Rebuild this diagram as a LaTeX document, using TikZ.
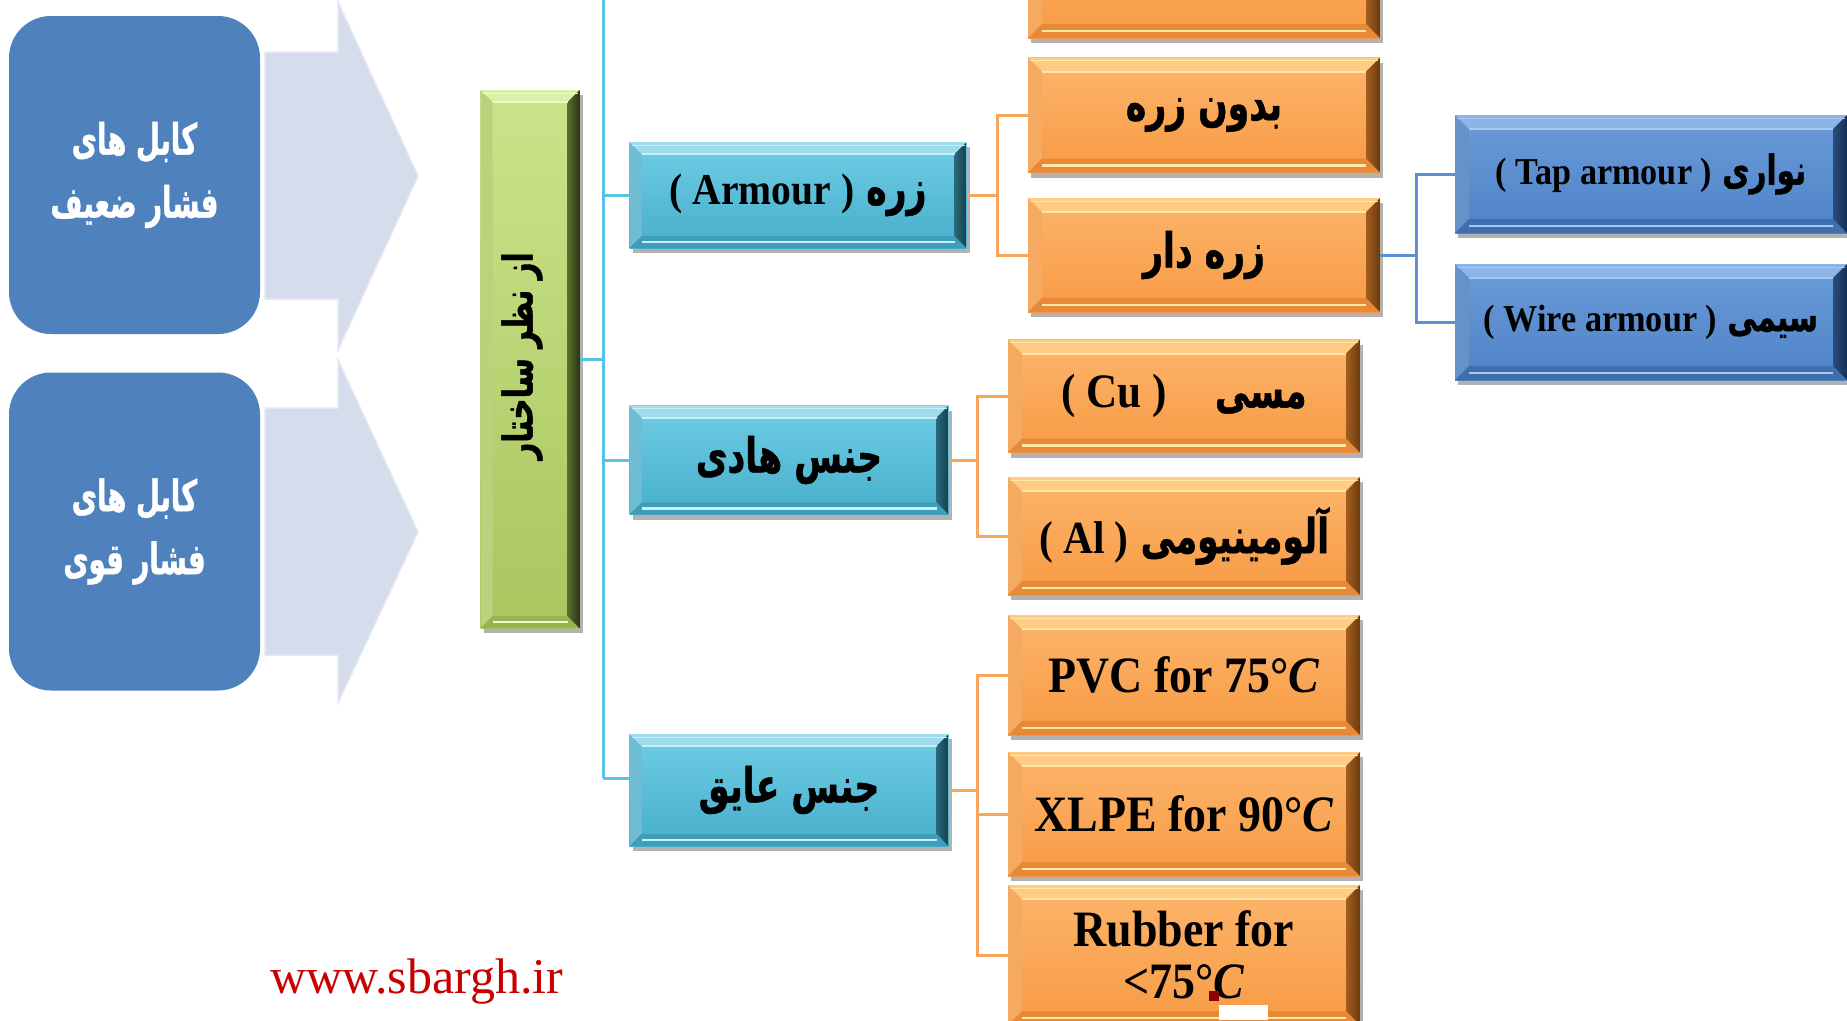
\documentclass[tikz,border=0pt]{standalone}
\usepackage{fontspec}
\setmainfont{Liberation Serif}
\newfontfamily\ar[Script=Arabic,FakeStretch=0.72,BoldFeatures={FakeBold=1}]{DejaVu Sans}
\newfontfamily\arc[Script=Arabic,FakeStretch=0.64,BoldFeatures={FakeBold=1}]{DejaVu Sans}
\newfontfamily\lat{Liberation Serif}
\newfontfamily\latc[FakeStretch=0.9]{Liberation Serif}
\TeXXeTstate=1
\usetikzlibrary{shadows}
\definecolor{rbblue}{HTML}{4F81BD}
\definecolor{chev}{HTML}{D5DCEB}
\definecolor{chevE}{HTML}{E3E8F2}
\definecolor{cyT}{HTML}{6FCDE6}\definecolor{cyB}{HTML}{47AECA}\definecolor{cyL}{HTML}{9FDDEE}
\definecolor{cyM}{HTML}{3E9DB8}\definecolor{cyD}{HTML}{173F4A}\definecolor{cyH}{HTML}{C8F0F8}
\definecolor{orT}{HTML}{FDB56B}\definecolor{orB}{HTML}{F79A44}\definecolor{orL}{HTML}{FFCB85}
\definecolor{orM}{HTML}{E8893A}\definecolor{orD}{HTML}{6B3A0C}\definecolor{orH}{HTML}{FFE7A6}
\definecolor{blT}{HTML}{6A9BDA}\definecolor{blB}{HTML}{4F83C6}\definecolor{blL}{HTML}{8DB4E6}
\definecolor{blM}{HTML}{3F6FAE}\definecolor{blD}{HTML}{162F52}\definecolor{blH}{HTML}{A9C8F0}
\definecolor{grT}{HTML}{CBE48A}\definecolor{grB}{HTML}{A9C65F}\definecolor{grL}{HTML}{DDF0A8}
\definecolor{grM}{HTML}{96B450}\definecolor{grD}{HTML}{2A3512}\definecolor{grH}{HTML}{EEF8C8}
\definecolor{cyline}{HTML}{58C4E3}
\definecolor{orline}{HTML}{F8A65C}
\definecolor{blline}{HTML}{5C8FD6}
\definecolor{webred}{HTML}{C80000}
\definecolor{darkred}{HTML}{8B0000}
\newcommand\LT[2][44]{{\latc\bfseries\fontsize{#1}{#1}\selectfont #2}}
\begin{document}
\begin{tikzpicture}[x=1pt,y=-1pt,
  bvw/.store in=\bvw, bvw=12pt,
  bvlight/.store in=\bvL, bvdark/.store in=\bvD, bvmid/.store in=\bvM, bvhi/.store in=\bvH,
  bevel/.style={rectangle, inner sep=0pt, align=center,
    drop shadow={shadow xshift=3pt,shadow yshift=-5pt,opacity=.3,fill=black},
    path picture={
      \coordinate (pnw) at (path picture bounding box.north west);
      \coordinate (pne) at (path picture bounding box.north east);
      \coordinate (psw) at (path picture bounding box.south west);
      \coordinate (pse) at (path picture bounding box.south east);
      \fill[\bvM!50!\bvL] (pnw) -- ([shift={(\bvw,-\bvw)}]pnw) -- ([shift={(\bvw,\bvw)}]psw) -- (psw) -- cycle;
      \fill[\bvM] (psw) -- ([shift={(\bvw,\bvw)}]psw) -- ([shift={(-\bvw,\bvw)}]pse) -- (pse) -- cycle;
      \fill[\bvL] (pnw) -- (pne) -- ([shift={(-\bvw,-\bvw)}]pne) -- ([shift={(\bvw,-\bvw)}]pnw) -- cycle;
      \shade[left color=\bvD!55!\bvM, right color=\bvD] (pne) -- (pse) -- ([shift={(-\bvw,\bvw)}]pse) -- ([shift={(-\bvw,-\bvw)}]pne) -- cycle;
      \draw[\bvH, line width=2pt] ([shift={(\bvw,-\bvw)}]pnw) -- ([shift={(-\bvw,-\bvw)}]pne);
      \draw[\bvH, line width=2.5pt] ([shift={(\bvw,0.5*\bvw)}]psw) -- ([shift={(-\bvw,0.5*\bvw)}]pse);
      \draw[\bvH, line width=1pt] ([shift={(2pt,-3pt)}]pnw) -- ([shift={(-2pt,-3pt)}]pne);
    }},
  cbox/.style={bevel, top color=cyT, bottom color=cyB, bvlight=cyL, bvdark=cyD, bvmid=cyM, bvhi=cyH,
    minimum width=319pt, font=\ar\bfseries\fontsize{48}{54}\selectfont},
  obox/.style={bevel, bvw=14pt, top color=orT, bottom color=orB, bvlight=orL, bvdark=orD, bvmid=orM, bvhi=orH,
    minimum width=352pt, font=\ar\bfseries\fontsize{48}{54}\selectfont},
  bbox/.style={bevel, bvw=14pt, top color=blT, bottom color=blB, bvlight=blL, bvdark=blD, bvmid=blM, bvhi=blH,
    minimum width=392pt, font=\ar\bfseries\fontsize{41}{46}\selectfont},
  gbox/.style={bevel, top color=grT, bottom color=grB, bvlight=grL, bvdark=grD, bvmid=grM, bvhi=grH},
  rbox/.style={rectangle, rounded corners=42pt, fill=rbblue, minimum width=251pt, minimum height=318pt,
    text=white, inner sep=0pt, align=center, font=\arc\bfseries\fontsize{43}{63}\selectfont},
  chevron/.style={fill=chev, draw=chevE, line width=1.5pt},
  cyl/.style={draw=cyline, line width=3pt},
  orl/.style={draw=orline, line width=3pt},
  bll/.style={draw=blline, line width=3pt}]
\useasboundingbox (0,0) rectangle (1847,1020);
\clip (0,0) rectangle (1847,1020);
\fill[white] (0,0) rectangle (1847,1020);

% chevrons
\path[chevron] (265,52) -- (338,52) -- (338,2) -- (418,176) -- (338,350) -- (338,299) -- (265,299) -- cycle;
\path[chevron] (265,408) -- (338,408) -- (338,360) -- (418,532) -- (338,703) -- (338,655) -- (265,655) -- cycle;

% left rounded boxes
\node[rbox] (low) at (134.5,175) {\beginR کابل های\endR\\\beginR فشار ضعیف\endR};
\node[rbox] (high) at (134.5,531.5) {\beginR کابل های\endR\\\beginR فشار قوی\endR};

% trunk
\coordinate (trTop) at (603,0);
\coordinate (trBot) at (603,778);

% boxes
\node[gbox, minimum width=99pt, minimum height=538pt] (gbar) at (530,359) {};
\node[rotate=90, font=\ar\bfseries\fontsize{41}{46}\selectfont] (gtxt) at (522,356) {\beginR از نظر ساختار\endR};

\node[cbox, minimum height=110pt] (ctop) at (789,-62) {};
\node[cbox, minimum width=337pt, minimum height=106pt] (armour) at (798,195) {\LT[44]{( Armour )}\ زره};
\node[cbox, minimum height=109pt] (hadi) at (789,460) {\beginR جنس هادی\endR};
\node[cbox, minimum height=112pt] (insul) at (789,790) {\beginR جنس عایق\endR};

\node[obox, minimum height=120pt] (otop) at (1204,-22) {};
\node[obox, minimum height=115pt] (nozreh) at (1204,115) {\beginR بدون زره\endR};
\node[obox, minimum height=114pt] (zrdar) at (1204,255) {\beginR زره دار\endR};
\node[obox, minimum height=113pt] (cu) at (1184,396) {\LT[48]{( Cu )}\quad مسی};
\node[obox, minimum height=118pt] (al) at (1184,536) {\LT[46]{( Al )}\ آلومینیومی};
\node[obox, minimum height=120pt] (pvc) at (1184,675) {\LT[51]{PVC for 75°\textit{C}}};
\node[obox, minimum height=124pt] (xlpe) at (1184,814) {\LT[51]{XLPE for 90°\textit{C}}};
\node[obox, minimum height=140pt, font=\latc\bfseries\fontsize{51}{52}\selectfont] (rubber) at (1184,955) {Rubber for\\<75°\textit{C}};

\node[bbox, minimum height=118pt] (tap) at (1651,174) {\LT[38]{( Tap armour )}\ نواری};
\node[bbox, minimum height=116pt] (wire) at (1651,322) {\LT[38]{( Wire armour )}\ سیمی};

% connectors
\draw[cyl] (trTop) -- (trBot);
\draw[cyl] (gbar.east) -- (gbar.east -| trTop);
\draw[cyl] (armour.west -| trTop) -- (armour.west);
\draw[cyl] (hadi.west -| trTop) -- (hadi.west);
\draw[cyl] (trBot) -- (trBot -| insul.west);

\draw[orl] (armour.east) -- ++(31pt,0pt) |- (nozreh.west);
\draw[orl] (armour.east) -- ++(31pt,0pt) |- (zrdar.west);
\draw[orl] (hadi.east) -- ++(29pt,0pt) |- (cu.west);
\draw[orl] (hadi.east) -- ++(29pt,0pt) |- (al.west);
\draw[orl] (insul.east) -- ++(29pt,0pt) |- (pvc.west);
\draw[orl] (insul.east) -- ++(29pt,0pt) |- (xlpe.west);
\draw[orl] (insul.east) -- ++(29pt,0pt) |- (rubber.west);

\draw[bll] (zrdar.east) -- ++(36pt,0pt) |- (tap.west);
\draw[bll] (zrdar.east) -- ++(36pt,0pt) |- (wire.west);

% website
\node[anchor=base west, text=webred, inner sep=0pt, font=\lat\fontsize{50}{50}\selectfont] (web) at (270,993) {www.sbargh.ir};

% small artefacts at bottom
\fill[darkred] (1209,991) rectangle (1219,1001);
\fill[white] (1219,1005) rectangle (1268,1020);
\end{tikzpicture}
\end{document}
